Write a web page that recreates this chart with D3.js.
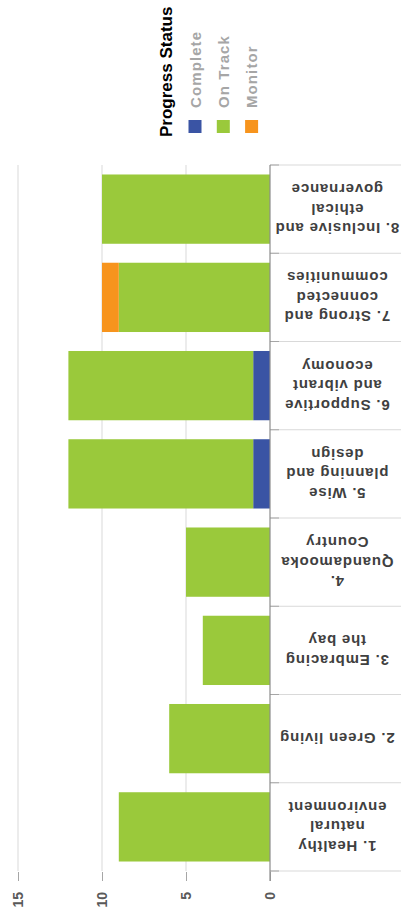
<!DOCTYPE html>
<html>
<head>
<meta charset="utf-8">
<script src="https://cdn.jsdelivr.net/npm/d3@7/dist/d3.min.js"></script>
<style>
  html, body { margin: 0; padding: 0; background: #fff; }
  svg { display: block; }
</style>
</head>
<body>
<div id="chart"></div>
<script>
// Progress status by strategic goal (stacked columns, page turned a quarter turn)
const categories = [
  ["1. Healthy", "natural", "environment"],
  ["2.  Green living"],
  ["3. Embracing", "the bay"],
  ["4.", "Quandamooka", "Country"],
  ["5. Wise", "planning and", "design"],
  ["6. Supportive", "and vibrant", "economy"],
  ["7. Strong and", "connected", "communities"],
  ["8. Inclusive and", "ethical", "governance"]
];
const seriesNames = ["Complete", "On Track", "Monitor"];
const complete = [0, 0, 0, 0, 1, 1, 0, 0];
const onTrack  = [9, 6, 4, 5, 11, 11, 9, 10];
const monitor  = [0, 0, 0, 0, 0, 0, 1, 0];
const valueTicks = [0, 5, 10, 15];
const colors = ["#3a54a4", "#9ac93b", "#f7941d"];

const rows = categories.map((c, i) => ({
  key: String(i),
  lines: c,
  "Complete": complete[i],
  "On Track": onTrack[i],
  "Monitor": monitor[i]
}));

// Chart is laid out in an unrotated 920 x 401 frame, then turned -90deg.
const pageW = 401, pageH = 920;
const frameW = 920;

const svg = d3.select("#chart").append("svg")
  .attr("width", pageW).attr("height", pageH)
  .style("font-family", "'Liberation Sans', Arial, sans-serif");

svg.append("rect").attr("width", pageW).attr("height", pageH).attr("fill", "#fff");

const g = svg.append("g").attr("transform", `translate(0,${frameW}) rotate(-90)`);

const x = d3.scaleBand()
  .domain(rows.map(d => d.key))
  .range([49, 755])
  .paddingInner(0.215)
  .paddingOuter(0.1075);

const y = d3.scaleLinear().domain([0, 15]).range([270, 18]);

// horizontal gridlines
g.append("g").selectAll("line")
  .data(valueTicks.filter(v => v > 0))
  .join("line")
  .attr("x1", 49).attr("x2", 755)
  .attr("y1", d => y(d)).attr("y2", d => y(d))
  .attr("stroke", "#d9d9d9").attr("stroke-width", 1);

// value axis: ticks and labels, no domain line
const yAxis = g.append("g")
  .attr("transform", "translate(48,0)")
  .call(d3.axisLeft(y).tickValues(valueTicks).tickSize(9).tickPadding(11).tickFormat(d3.format("d")));
yAxis.select(".domain").remove();
yAxis.selectAll(".tick line").attr("stroke", "#a6a6a6");
yAxis.selectAll(".tick text")
  .attr("fill", "#595959")
  .style("font-size", "14px")
  .style("font-weight", "bold")
  .style("font-family", "'Liberation Sans', Arial, sans-serif");

// stacked columns
const stack = d3.stack().keys(seriesNames)(rows);
g.append("g").selectAll("g")
  .data(stack)
  .join("g")
  .attr("fill", (d, i) => colors[i])
  .selectAll("rect")
  .data(d => d)
  .join("rect")
  .attr("x", d => x(d.data.key))
  .attr("width", x.bandwidth())
  .attr("y", d => y(d[1]))
  .attr("height", d => y(d[0]) - y(d[1]));

// category boundaries below the axis
const step = x.step();
const edges = d3.range(rows.length + 1).map(i => x.range()[0] + i * step);
g.append("g").selectAll("line")
  .data(edges)
  .join("line")
  .attr("x1", d => d).attr("x2", d => d)
  .attr("y1", 270).attr("y2", 401)
  .attr("stroke", "#d9d9d9").attr("stroke-width", 1);
g.append("g").selectAll("line")
  .data(edges)
  .join("line")
  .attr("x1", d => d).attr("x2", d => d)
  .attr("y1", 270).attr("y2", 279)
  .attr("stroke", "#a6a6a6").attr("stroke-width", 1);

// category axis line
g.append("line")
  .attr("x1", 39).attr("x2", 755)
  .attr("y1", y(0)).attr("y2", y(0))
  .attr("stroke", "#8c8c8c").attr("stroke-width", 1.2);

// category labels, vertical text
const lineH = 19.5;
const labels = g.append("g").selectAll("text")
  .data(rows)
  .join("text")
  .attr("transform", d => `translate(${x(d.key) + x.bandwidth() / 2},337) rotate(-90)`)
  .attr("text-anchor", "middle")
  .attr("fill", "#404040")
  .style("font-size", "15px")
  .style("font-weight", "bold")
  .style("letter-spacing", "0.8px");
labels.selectAll("tspan")
  .data(d => d.lines.map((t, i) => ({ t, i, n: d.lines.length })))
  .join("tspan")
  .attr("x", 0)
  .attr("y", d => (d.i - (d.n - 1) / 2) * lineH)
  .attr("dominant-baseline", "central")
  .text(d => d.t);

// legend
const legend = g.append("g");
legend.append("text")
  .attr("x", 783).attr("y", 166)
  .attr("dominant-baseline", "central")
  .attr("fill", "#000")
  .style("font-size", "17px")
  .style("font-weight", "bold")
  .text("Progress Status");
const item = legend.selectAll("g.item")
  .data(seriesNames)
  .join("g")
  .attr("class", "item")
  .attr("transform", (d, i) => `translate(787,${195 + i * 28.3})`);
item.append("rect")
  .attr("x", 0).attr("y", -6.5)
  .attr("width", 13).attr("height", 13)
  .attr("fill", (d, i) => colors[i]);
item.append("text")
  .attr("x", 25).attr("y", 0)
  .attr("dominant-baseline", "central")
  .attr("fill", "#a6a6a6")
  .style("font-size", "15px")
  .style("font-weight", "bold")
  .style("letter-spacing", "1.1px")
  .text(d => d);
</script>
</body>
</html>
